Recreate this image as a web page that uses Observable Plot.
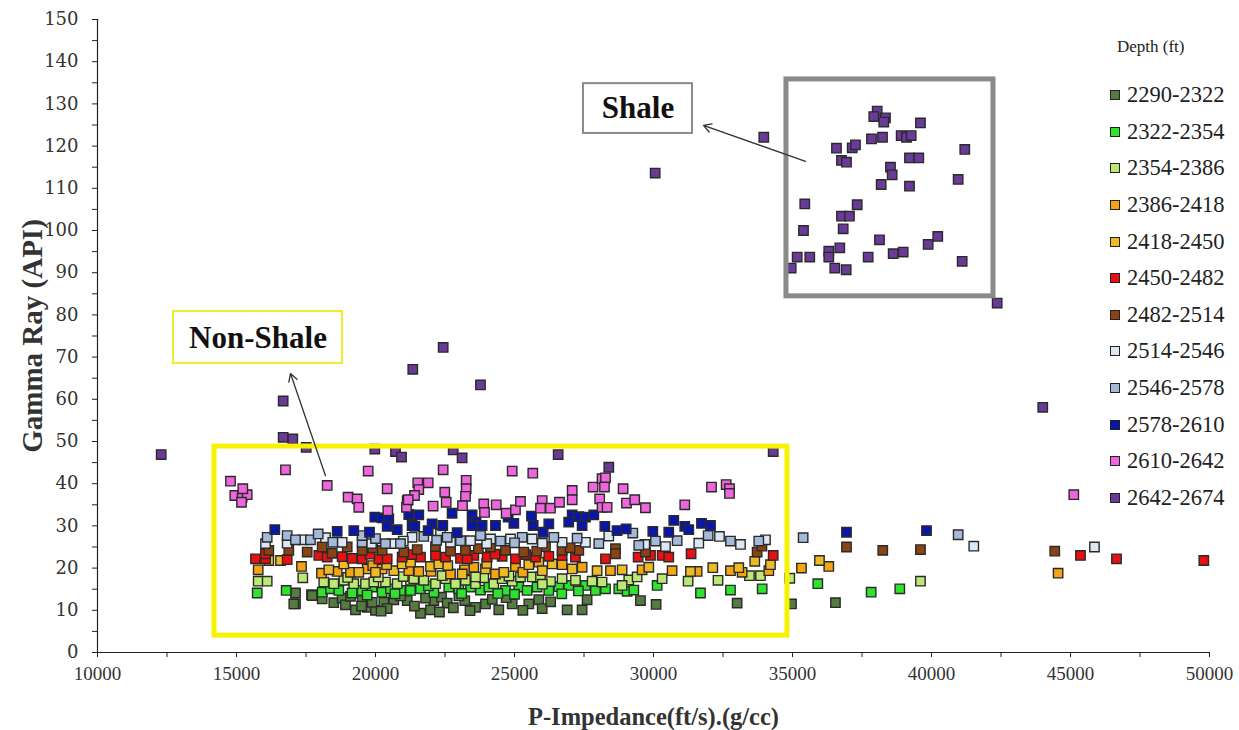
<!DOCTYPE html>
<html><head><meta charset="utf-8">
<script src="https://cdn.jsdelivr.net/npm/d3@7"></script>
<script src="https://cdn.jsdelivr.net/npm/@observablehq/plot@0.6"></script>
<style>
body{margin:0;background:#fff;}
#wrap{position:relative;width:1239px;height:730px;font-family:"Liberation Serif","Times New Roman",serif;}
#legend{position:absolute;left:1110px;top:33px;width:129px;color:#222;}
#legend .title{font-size:17px;text-align:left;margin-left:7px;height:44px;line-height:28px;}
#legend .item{display:flex;align-items:center;height:36.6px;font-size:22.5px;}
#legend .sw{width:8px;height:8px;border:1.5px solid #222;margin-right:7px;flex:none;}
g[aria-label="y-axis label"] text{font-size:29px;font-weight:bold;fill:#333;}
g[aria-label="x-axis label"] text{font-size:24.5px;font-weight:bold;fill:#333;}
g[aria-label="y-axis tick label"] text{font-size:18px;font-family:"DejaVu Serif",serif;fill:#333;}
g[aria-label="x-axis tick label"] text{font-size:19px;fill:#333;}
</style></head><body>
<div id="wrap"><div id="chart"></div><div id="legend"></div></div>
<script>
// Depth ranges (series) and their colours
const depthRanges = ["2290-2322","2322-2354","2354-2386","2386-2418","2418-2450","2450-2482","2482-2514","2514-2546","2546-2578","2578-2610","2610-2642","2642-2674"];
const seriesColors = ["#567B40","#2EE22E","#BDE874","#F5A412","#EEBB26","#E81010","#8A4414","#DCE7F4","#A5BADA","#0A16A8","#EE66DC","#6A3A98"];

// [P-Impedance, Gamma Ray] per depth range
const d2290 = [[17122,14.1],[17122,11.5],[17698,13.7],[18082,12.7],[18500,11.8],[18799,12.9],[18920,11.3],[19280,10.1],[19519,12.3],[19701,10.7],[20000,10.0],[19880,11.9],[20298,11.9],[20658,12.5],[21140,12.3],[21618,9.3],[21978,10.1],[22098,12.3],[22373,13.1],[22579,11.7],[23212,12.3],[23597,10.7],[23956,11.5],[24435,10.1],[24917,11.5],[25515,11.5],[25875,12.5],[25996,10.4],[26894,10.1],[27432,10.1],[27612,12.5],[29531,12.3],[30094,11.4],[33008,11.7],[34963,11.5],[36545,11.8],[17061,11.5],[17723,13.5],[20420,10.4],[21400,11.0],[22800,10.6],[24200,12.6],[26300,12.0],[20900,13.4],[22300,9.6],[19100,13.3],[20200,9.8],[21800,12.9],[23400,9.9],[24700,13.0],[25300,10.0],[19500,11.0],[23000,13.4]];
const d2322 = [[15745,14.1],[16787,14.7],[18082,14.3],[18381,15.1],[18680,14.7],[19159,14.1],[19519,14.7],[19880,15.5],[20238,14.3],[20539,15.1],[20899,14.7],[21259,14.7],[21618,15.1],[22636,15.5],[22996,15.1],[23417,15.5],[23776,14.8],[24076,15.5],[24676,14.7],[25155,15.5],[25455,14.7],[25812,15.5],[26234,14.7],[26594,15.6],[26950,15.9],[27553,15.9],[27913,14.7],[28273,15.1],[28752,15.1],[29052,14.5],[29291,14.8],[30131,15.9],[31690,14.1],[32769,14.8],[33909,15.1],[35910,16.3],[37829,14.3],[38859,15.1],[22100,14.2],[24400,14.0],[19700,13.6],[20700,13.9],[21900,15.8],[23100,14.0],[25000,13.8],[26700,13.9],[27300,14.6]];
const d2354 = [[15780,16.9],[16104,16.9],[17385,17.7],[18140,16.7],[18500,16.3],[18860,17.1],[19219,16.3],[19640,16.3],[19939,16.7],[20359,16.7],[20780,16.3],[21259,17.1],[21377,17.5],[21737,17.1],[22158,16.3],[22518,17.5],[22878,16.3],[23237,17.1],[23597,16.3],[23895,17.7],[24255,16.3],[24556,17.5],[24917,16.9],[25215,17.9],[25636,17.9],[25935,17.9],[26294,16.8],[26713,17.5],[27193,17.1],[27791,16.9],[28150,16.7],[29111,17.2],[29411,17.9],[28871,15.9],[30311,17.5],[31245,16.9],[32321,17.1],[33452,18.2],[33848,18.2],[34902,17.6],[39603,16.9],[19000,17.8],[20100,17.9],[21000,18.0],[22400,18.2],[23600,17.9],[24800,18.1],[26000,16.2]];
const d2386 = [[15780,19.6],[17338,20.4],[18057,18.8],[18622,19.2],[19100,19.0],[19701,19.8],[20238,19.8],[21198,19.4],[21557,19.2],[22697,18.6],[23537,20.2],[24316,18.6],[25035,20.4],[25875,21.4],[26713,20.8],[27432,20.2],[28452,19.4],[29590,19.6],[30669,19.4],[31570,19.2],[32769,19.4],[33188,19.0],[34148,19.4],[35322,20.0],[36305,20.4],[44554,18.8],[19900,20.6],[22000,19.2],[23200,19.6],[25300,19.0]];
const d2418 = [[16162,21.8],[16583,21.8],[18320,19.6],[18860,21.0],[19399,19.0],[20000,19.0],[20658,19.4],[20959,21.0],[21259,21.4],[21978,20.4],[22277,21.0],[23118,18.6],[23956,19.8],[24616,19.0],[25515,20.8],[26355,21.0],[27075,19.8],[27971,19.4],[28871,19.6],[29831,20.2],[31330,19.2],[32133,20.1],[33067,20.1],[33643,21.6],[34208,20.8],[35970,21.8],[20400,20.8],[22600,20.6],[24000,21.1],[26000,19.4]];
const d2450 = [[15683,22.2],[16043,22.2],[16043,23.4],[16823,22.0],[17961,23.0],[18262,22.6],[18799,22.7],[19159,22.3],[19519,22.2],[20118,22.2],[20420,22.2],[20959,22.6],[21618,22.6],[22158,23.0],[22518,22.6],[23057,22.3],[23537,23.0],[24016,22.6],[24556,22.8],[25035,22.2],[25755,22.6],[26234,22.8],[26713,23.0],[27193,22.6],[28273,22.2],[29447,22.6],[29891,23.0],[30311,23.0],[30549,22.6],[31352,23.4],[34305,23.0],[45359,23.0],[46654,22.2],[49795,21.8],[19800,23.3],[21300,23.2],[23300,22.2],[24300,23.3],[25400,23.2]];
const d2482 = [[16162,24.2],[16881,24.2],[17543,23.8],[18082,25.0],[18442,23.5],[18982,25.0],[19519,24.2],[20238,24.2],[21018,23.8],[21500,24.4],[22158,25.1],[23237,24.2],[24136,25.0],[24676,24.2],[25335,23.8],[26114,25.1],[26713,24.2],[27313,24.2],[28632,24.6],[28632,23.4],[29711,23.8],[33728,23.8],[33900,25.2],[36942,25.0],[38247,24.2],[39603,24.4],[44434,24.0],[19900,24.8],[22700,24.0],[23700,24.6],[25800,24.0],[27000,24.8]];
const d2514 = [[16043,25.8],[16823,25.9],[17385,26.7],[18201,27.2],[18799,26.1],[19856,25.8],[20600,25.8],[21316,27.3],[22338,28.1],[22697,26.1],[23417,26.5],[24136,26.9],[24856,26.9],[25636,26.9],[26713,26.1],[27553,26.1],[28392,27.6],[29687,25.6],[30431,25.1],[31629,25.9],[32373,27.5],[33129,25.6],[34028,26.7],[41521,25.2],[45862,25.0],[21000,26.4],[24000,25.8],[26000,25.9]];
const d2546 = [[16104,27.3],[16823,27.7],[17122,26.7],[17661,26.7],[17938,28.1],[18464,26.1],[19519,26.1],[19519,27.7],[20359,25.8],[20899,25.8],[21737,27.5],[22579,27.3],[23057,26.5],[23776,27.7],[24496,26.4],[25276,27.3],[26414,27.3],[27253,27.1],[28033,25.8],[29255,28.3],[29471,25.4],[30071,26.4],[30851,26.5],[31966,27.7],[32769,26.4],[33787,26.4],[35383,27.2],[40959,27.9],[20000,27.0],[22200,26.6],[25000,26.0]];
const d2578 = [[16378,29.1],[18622,28.7],[19219,28.9],[19784,28.5],[19975,32.1],[20238,31.9],[20478,31.7],[20420,29.9],[20780,29.1],[21198,32.7],[21316,30.1],[21557,32.6],[21413,29.9],[22036,30.5],[22420,30.1],[21893,28.9],[22755,33.0],[23474,32.6],[23618,30.9],[23834,30.1],[23474,30.1],[24316,30.1],[24773,32.1],[24976,30.6],[22938,28.4],[25611,32.3],[25672,30.1],[26234,30.5],[26029,28.5],[27075,32.6],[27313,32.2],[27553,32.1],[27852,32.6],[27432,30.1],[26950,30.9],[28249,29.9],[28690,28.9],[29017,29.3],[29975,28.7],[30729,31.3],[30549,28.5],[31125,29.9],[31269,29.1],[31726,30.6],[32050,30.1],[36942,28.5],[39820,28.9]];
const d2610 = [[16762,43.3],[14784,40.6],[14939,37.2],[15204,36.8],[15384,37.4],[15180,35.6],[15227,38.8],[18262,39.6],[19015,36.8],[19339,36.4],[19399,34.4],[19737,43.0],[20420,38.8],[21140,36.0],[21115,34.4],[20442,33.6],[22434,43.3],[24917,43.0],[25658,42.5],[21521,40.2],[21895,40.2],[23262,40.8],[23262,38.8],[23237,37.0],[21557,38.6],[21403,37.2],[21176,36.2],[22492,38.0],[22543,35.6],[22072,34.7],[23129,34.8],[23895,35.2],[24342,35.0],[23921,33.2],[24701,33.0],[25035,33.8],[25215,35.8],[25996,36.0],[25935,34.2],[26294,34.2],[26618,35.6],[27075,38.4],[27075,36.2],[27827,39.2],[28150,41.2],[28064,36.4],[28150,34.4],[28273,41.4],[28237,39.2],[28331,34.4],[28907,38.8],[29028,35.4],[29325,36.2],[29711,34.3],[31125,35.0],[32086,39.2],[32614,39.8],[32733,38.8],[32733,37.7],[45118,37.4]];
const d2642 = [[38046,128.3],[37924,127.0],[38344,126.7],[38283,125.7],[39603,125.5],[33967,122.1],[30060,113.6],[37841,121.7],[38237,122.1],[38909,122.5],[39100,122.1],[39269,122.5],[41197,119.2],[36582,119.5],[37147,119.6],[37265,120.3],[36762,116.6],[36942,116.2],[39208,117.2],[39542,117.2],[38524,115.0],[38585,113.2],[38190,110.9],[39208,110.5],[40959,112.1],[35442,106.3],[37327,106.1],[36762,103.4],[37049,103.4],[35395,100.0],[36823,100.4],[38129,97.8],[40225,98.6],[39880,96.7],[36701,95.9],[36305,95.1],[36305,93.7],[35168,93.7],[35621,93.7],[37722,93.7],[38621,94.5],[38981,94.9],[41103,92.7],[34952,91.1],[36521,91.1],[36931,90.7],[42362,82.8],[44002,58.1],[22434,72.3],[21341,67.1],[23776,63.4],[16679,59.6],[16679,51.0],[17025,50.6],[12291,46.9],[17507,48.6],[19975,48.2],[20719,47.6],[20935,46.3],[22795,48.0],[23115,46.1],[26571,46.9],[34305,47.6],[28392,43.9]];

const seriesData = [d2290,d2322,d2354,d2386,d2418,d2450,d2482,d2514,d2546,d2578,d2610,d2642];
const points = seriesData.flatMap((arr, i) => arr.map(([x, y]) => ({x, y, depth: depthRanges[i]})));

// Annotation boxes and labels (data coordinates)
const boxes = [
  {x1: 14208, x2: 34819, y1: 4.0, y2: 48.8, color: "#F7F200"},
  {x1: 34783, x2: 42229, y1: 84.4, y2: 135.8, color: "#8A8A8A"}
];
const labelBoxes = [
  {x1: 27481, x2: 31402, y1: 123.0, y2: 134.8, color: "#8A8A8A", text: "Shale", tx: 29441, ty: 128.9},
  {x1: 12734, x2: 18813, y1: 68.5, y2: 80.8, color: "#F2EA30", text: "Non-Shale", tx: 15773, ty: 74.6}
];
const arrows = [
  {x1: 35467, y1: 116.4, x2: 31798, y2: 124.9},
  {x1: 18201, y1: 41.9, x2: 16942, y2: 66.1}
];

const chart = Plot.plot({
  width: 1239, height: 730,
  marginLeft: 97, marginRight: 30, marginTop: 19, marginBottom: 78,
  style: {fontFamily: "'Liberation Serif', 'Times New Roman', serif", fontSize: "17px", color: "#222", background: "#fff"},
  x: {domain: [10000, 50000]},
  y: {domain: [0, 150]},
  color: {domain: depthRanges, range: seriesColors},
  marks: [
    Plot.axisY({ticks: d3.range(0, 151, 5), tickSize: 5, tickPadding: 14, tickFormat: d => d % 10 === 0 ? `${d}` : "", label: "Gamma Ray (API)", labelAnchor: "center", labelArrow: "none", labelOffset: 76}),
    Plot.axisX({ticks: d3.range(10000, 50001, 2500), tickSize: 5, tickPadding: 9, tickFormat: d => d % 5000 === 0 ? `${d}` : "", label: "P-Impedance(ft/s).(g/cc)", labelAnchor: "center", labelArrow: "none", labelOffset: 72}),
    Plot.ruleX([10000], {stroke: "#222", strokeWidth: 1.2}),
    Plot.ruleY([0], {stroke: "#222", strokeWidth: 1.2}),
    Plot.dot(points, {x: "x", y: "y", fill: "depth", stroke: "#2a2a2a", strokeWidth: 1.4, symbol: "square", r: 5.3}),
    Plot.rect(boxes, {x1: "x1", x2: "x2", y1: "y1", y2: "y2", fill: "none", stroke: "color", strokeWidth: 5}),
    Plot.rect(labelBoxes, {x1: "x1", x2: "x2", y1: "y1", y2: "y2", fill: "white", stroke: "color", strokeWidth: 2}),
    Plot.text(labelBoxes, {x: "tx", y: "ty", text: "text", fontSize: 31, fontWeight: "bold", fill: "#111"}),
    Plot.arrow(arrows, {x1: "x1", y1: "y1", x2: "x2", y2: "y2", stroke: "#333", strokeWidth: 1.3, headLength: 10})
  ]
});
document.getElementById("chart").appendChild(chart);

const legend = document.getElementById("legend");
legend.innerHTML = `<div class="title">Depth (ft)</div>` + depthRanges.map((d, i) =>
  `<div class="item"><div class="sw" style="background:${seriesColors[i]}"></div>${d}</div>`).join("");
</script>
</body></html>
